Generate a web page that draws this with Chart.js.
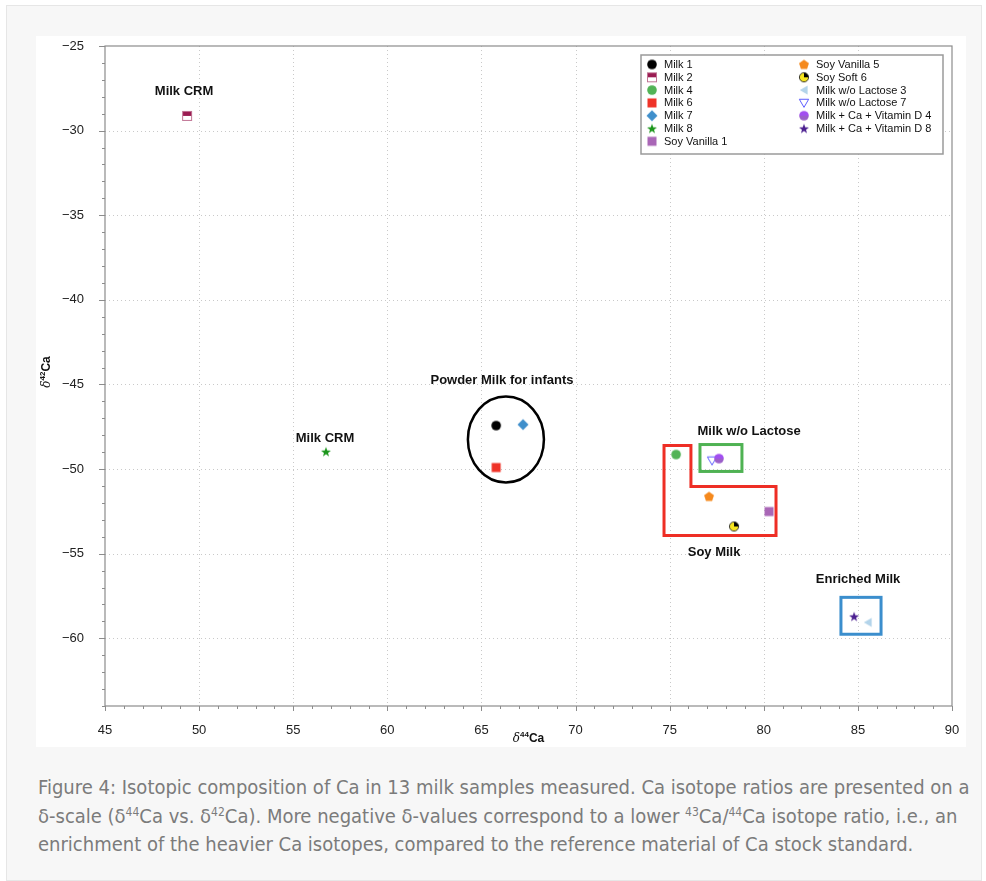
<!DOCTYPE html>
<html lang="en">
<head>
<meta charset="UTF-8">
<title>Isotopic composition of Ca in milk samples</title>
<script src="https://cdn.jsdelivr.net/npm/chart.js"></script>
<style>
    body { margin: 0; background: #fff; font-family: "Liberation Sans", Arial, sans-serif; }
    .frame {
        position: absolute; left: 6px; top: 5px; width: 974px; height: 874px;
        background: #f7f7f7; border: 1px solid #e6e6e6;
    }
    .panel { position: absolute; left: 29px; top: 30px; width: 930px; height: 711px; background: #fff; }
    .caption {
        position: absolute; left: 31px; top: 767px; white-space: nowrap;
        font-family: "Liberation Sans Narrow", "DejaVu Sans Condensed", sans-serif;
        font-stretch: condensed;
        font-size: 20px; line-height: 28.5px; color: #7b7b7b;
    }
    .caption sup { font-size: 0.6em; line-height: 0; vertical-align: 0.6em; }
</style>
</head>
<body>
<div class="frame">
    <div class="panel"><canvas id="caChart" width="930" height="711"></canvas></div>
    <div class="caption">
        Figure 4: Isotopic composition of Ca in 13 milk samples measured. Ca isotope ratios are presented on a<br>
        δ-scale (δ<sup>44</sup>Ca vs. δ<sup>42</sup>Ca). More negative δ-values correspond to a lower <sup>43</sup>Ca/<sup>44</sup>Ca isotope ratio, i.e., an<br>
        enrichment of the heavier Ca isotopes, compared to the reference material of Ca stock standard.
    </div>
</div>
<script>
// axis ticks
const xTicks = [45, 50, 55, 60, 65, 70, 75, 80, 85, 90];
const yTicks = [-25, -30, -35, -40, -45, -50, -55, -60];

// samples: delta44Ca vs delta42Ca
const samples = ['Milk 1', 'Milk 2', 'Milk 4', 'Milk 6', 'Milk 7', 'Milk 8', 'Soy Vanilla 1',
    'Soy Vanilla 5', 'Soy Soft 6', 'Milk w/o Lactose 3', 'Milk w/o Lactose 7',
    'Milk + Ca + Vitamin D 4', 'Milk + Ca + Vitamin D 8'];
const d44 = [65.78, 49.36, 75.34, 65.78, 67.21, 56.74, 80.28, 77.09, 78.42, 85.54, 77.25, 77.62, 84.80];
const d42 = [-47.43, -29.13, -49.14, -49.91, -47.37, -48.97, -52.51, -51.62, -53.39, -59.06, -49.50, -49.38, -58.71];

// group labels
const labelText = ['Milk CRM', 'Powder Milk for infants', 'Milk CRM', 'Milk w/o Lactose', 'Soy Milk', 'Enriched Milk'];
const labelX = [49.20, 66.09, 56.69, 79.22, 77.36, 85.01];
const labelY = [-27.66, -44.77, -48.20, -47.78, -54.92, -56.52];

// group outlines (data units)
const powderEllipse = [66.30, -48.25, 2.02, 2.54];
const soyX = [74.70, 76.13, 76.13, 80.65, 80.65, 74.70];
const soyY = [-48.61, -48.61, -51.03, -51.03, -53.92, -53.92];
const lactoseX = [76.61, 78.84];
const lactoseY = [-48.55, -50.14];
const enrichedX = [84.10, 86.23];
const enrichedY = [-57.58, -59.76];

const markerKinds = ['circle', 'halfSquare', 'circle', 'square', 'diamond', 'star', 'square',
    'pentagon', 'pie', 'triLeft', 'triDownOpen', 'halfCircle', 'star'];
const markerColors = ['#000000', '#9b1b52', '#52b356', '#ef3328', '#3f8fcb', '#1c961c', '#a966b6',
    '#f5891d', '#f7e51f', '#b3d4ea', '#5b5bff', '#a24ef0', '#4b1f90'];

function polyPath(g, cx, cy, r, n, rot) {
    g.beginPath();
    for (let i = 0; i < n; i++) {
        const a = rot + i * 2 * Math.PI / n;
        g.lineTo(cx + r * Math.cos(a), cy + r * Math.sin(a));
    }
    g.closePath();
}

function makeMarker(kind, color) {
    const c = document.createElement('canvas');
    const S = 14;
    c.width = S; c.height = S;
    const g = c.getContext('2d');
    const m = S / 2;
    g.fillStyle = color;
    g.strokeStyle = color;
    if (kind === 'circle') {
        g.beginPath(); g.arc(m, m, 4.8, 0, Math.PI * 2); g.fill();
    } else if (kind === 'square') {
        g.fillRect(m - 4.5, m - 4.5, 9, 9);
    } else if (kind === 'halfSquare') {
        g.fillStyle = '#fff'; g.fillRect(m - 4.5, m - 4.5, 9, 9);
        g.fillStyle = color; g.fillRect(m - 4.5, m - 4.5, 9, 4.5);
        g.strokeStyle = '#c07595'; g.lineWidth = 1; g.strokeRect(m - 4.5, m - 4.5, 9, 9);
    } else if (kind === 'diamond') {
        polyPath(g, m, m, 5.5, 4, 0); g.fill();
    } else if (kind === 'star') {
        g.beginPath();
        for (let i = 0; i < 10; i++) {
            const a = -Math.PI / 2 + i * Math.PI / 5;
            const rr = i % 2 ? 2.1 : 5.2;
            g.lineTo(m + rr * Math.cos(a), m + 0.5 + rr * Math.sin(a));
        }
        g.closePath(); g.fill();
    } else if (kind === 'pentagon') {
        polyPath(g, m, m + 0.4, 5.2, 5, -Math.PI / 2); g.fill();
    } else if (kind === 'pie') {
        g.beginPath(); g.arc(m, m, 4.6, 0, Math.PI * 2); g.fill();
        g.fillStyle = '#000';
        g.beginPath(); g.moveTo(m, m); g.arc(m, m, 4.6, -Math.PI / 2, 0); g.closePath(); g.fill();
        g.strokeStyle = '#222'; g.lineWidth = 0.9;
        g.beginPath(); g.arc(m, m, 4.6, 0, Math.PI * 2); g.stroke();
    } else if (kind === 'triLeft') {
        polyPath(g, m + 1, m, 5.2, 3, Math.PI); g.fill();
    } else if (kind === 'triDownOpen') {
        polyPath(g, m, m - 1, 5.4, 3, Math.PI / 2);
        g.lineWidth = 1; g.stroke();
    } else if (kind === 'halfCircle') {
        g.beginPath(); g.arc(m, m, 4.8, Math.PI, 0); g.closePath(); g.fill();
        g.fillStyle = '#9b5fc9';
        g.beginPath(); g.arc(m, m, 4.8, 0, Math.PI); g.closePath(); g.fill();
    }
    return c;
}

const markerImgs = markerKinds.map((k, i) => makeMarker(k, markerColors[i]));

const datasets = samples.map((name, i) => ({
    label: name,
    data: [{ x: d44[i], y: d42[i] }],
    pointStyle: markerImgs[i],
    order: samples.length - i
}));

// grid, frame and minor ticks
const frameGrid = {
    id: 'frameGrid',
    beforeDatasetsDraw(chart) {
        const { ctx, chartArea: a, scales: { x, y } } = chart;
        ctx.save();
        ctx.strokeStyle = '#c9c9c9';
        ctx.lineWidth = 1;
        ctx.setLineDash([1, 3]);
        xTicks.forEach(v => {
            if (v === xTicks[0] || v === xTicks[xTicks.length - 1]) return;
            const px = Math.round(x.getPixelForValue(v)) + 0.5;
            ctx.beginPath(); ctx.moveTo(px, a.top); ctx.lineTo(px, a.bottom); ctx.stroke();
        });
        yTicks.forEach(v => {
            if (v === yTicks[0]) return;
            const py = Math.round(y.getPixelForValue(v)) + 0.5;
            ctx.beginPath(); ctx.moveTo(a.left, py); ctx.lineTo(a.right, py); ctx.stroke();
        });
        ctx.setLineDash([]);
        ctx.strokeStyle = '#8c8c8c';
        ctx.lineWidth = 1.2;
        ctx.strokeRect(a.left, a.top, a.right - a.left, a.bottom - a.top);
        ctx.lineWidth = 1;
        for (let v = x.min; v <= x.max; v++) {
            const px = Math.round(x.getPixelForValue(v)) + 0.5;
            const len = v % 5 === 0 ? 5 : 3;
            ctx.beginPath(); ctx.moveTo(px, a.bottom); ctx.lineTo(px, a.bottom + len); ctx.stroke();
        }
        for (let v = y.max; v >= y.min; v--) {
            const py = Math.round(y.getPixelForValue(v)) + 0.5;
            const len = v % 5 === 0 ? 6 : 3;
            ctx.beginPath(); ctx.moveTo(a.left - len, py); ctx.lineTo(a.left, py); ctx.stroke();
        }
        ctx.restore();
    }
};

// group outlines and labels
const groups = {
    id: 'groups',
    afterDatasetsDraw(chart) {
        const { ctx, scales: { x, y } } = chart;
        ctx.save();
        ctx.lineJoin = 'miter';
        // powder milk ellipse
        ctx.strokeStyle = '#000';
        ctx.lineWidth = 2.5;
        const ecx = x.getPixelForValue(powderEllipse[0]);
        const ecy = y.getPixelForValue(powderEllipse[1]);
        const erx = x.getPixelForValue(powderEllipse[0] + powderEllipse[2]) - ecx;
        const ery = ecy - y.getPixelForValue(powderEllipse[1] + powderEllipse[3]);
        ctx.beginPath(); ctx.ellipse(ecx, ecy, erx, ery, 0, 0, Math.PI * 2); ctx.stroke();
        // soy milk outline
        ctx.strokeStyle = '#ee2e25';
        ctx.lineWidth = 3;
        ctx.beginPath();
        soyX.forEach((v, i) => ctx.lineTo(x.getPixelForValue(v), y.getPixelForValue(soyY[i])));
        ctx.closePath(); ctx.stroke();
        // lactose-free and enriched boxes
        const box = (xs, ys, col) => {
            ctx.strokeStyle = col;
            const x0 = x.getPixelForValue(xs[0]), x1 = x.getPixelForValue(xs[1]);
            const y0 = y.getPixelForValue(ys[0]), y1 = y.getPixelForValue(ys[1]);
            ctx.strokeRect(x0, y0, x1 - x0, y1 - y0);
        };
        box(lactoseX, lactoseY, '#4fb253');
        box(enrichedX, enrichedY, '#3b8ecd');
        // labels
        ctx.fillStyle = '#111';
        ctx.font = 'bold 13px "Liberation Sans", Arial, sans-serif';
        ctx.textAlign = 'center';
        ctx.textBaseline = 'middle';
        labelText.forEach((t, i) => ctx.fillText(t, x.getPixelForValue(labelX[i]), y.getPixelForValue(labelY[i])));
        ctx.restore();
    }
};

// axis titles with superscripts, and legend box
function drawDeltaTitle(ctx, sup, cx, cy) {
    const fD = 'italic 12px "DejaVu Serif", serif';
    const fS = 'bold 8px "Liberation Sans", Arial, sans-serif';
    const fC = 'bold 12px "Liberation Sans", Arial, sans-serif';
    ctx.font = fD; const wD = ctx.measureText('δ').width;
    ctx.font = fS; const wS = ctx.measureText(sup).width;
    ctx.font = fC; const wC = ctx.measureText('Ca').width;
    let px = cx - (wD + wS + wC) / 2;
    ctx.textAlign = 'left';
    ctx.textBaseline = 'alphabetic';
    ctx.font = fD; ctx.fillText('δ', px, cy + 4); px += wD;
    ctx.font = fS; ctx.fillText(sup, px, cy - 1); px += wS;
    ctx.font = fC; ctx.fillText('Ca', px, cy + 4);
}

const extras = {
    id: 'extras',
    afterDraw(chart) {
        const { ctx, chartArea: a } = chart;
        ctx.save();
        ctx.fillStyle = '#111';
        drawDeltaTitle(ctx, '44', (a.left + a.right) / 2, 702);
        ctx.save();
        ctx.translate(10, (a.top + a.bottom) / 2 - 4);
        ctx.rotate(-Math.PI / 2);
        drawDeltaTitle(ctx, '42', 0, 0);
        ctx.restore();

        // legend
        const lx = 605, ly = 19, lw = 302, lh = 99;
        ctx.fillStyle = '#fff';
        ctx.fillRect(lx, ly, lw, lh);
        ctx.strokeStyle = '#9a9a9a';
        ctx.lineWidth = 1.5;
        ctx.strokeRect(lx, ly, lw, lh);
        ctx.font = '11px "Liberation Sans", Arial, sans-serif';
        ctx.textBaseline = 'middle';
        ctx.textAlign = 'left';
        ctx.fillStyle = '#111';
        samples.forEach((name, i) => {
            const col = i < 7 ? 0 : 1;
            const row = i < 7 ? i : i - 7;
            const mx = col ? 768 : 616;
            const my = 28.5 + row * 12.8;
            ctx.drawImage(markerImgs[i], mx - 7, my - 7);
            ctx.fillText(name, mx + 12, my + 0.5);
        });
        ctx.restore();
    }
};

const tickFont = { family: '"Liberation Sans", Arial, sans-serif', size: 13 };
const minusFmt = v => String(v).replace('-', '\u2212');

new Chart(document.getElementById('caChart'), {
    type: 'scatter',
    data: { datasets: datasets },
    options: {
        responsive: false,
        animation: false,
        layout: { padding: { top: 10, right: 14, left: 0, bottom: 0 } },
        plugins: { legend: { display: false }, tooltip: { enabled: false } },
        scales: {
            x: {
                type: 'linear', min: 45, max: 90,
                afterBuildTicks: s => { s.ticks = xTicks.map(v => ({ value: v })); },
                afterFit: s => { s.height = 41; s.paddingLeft = 0; s.paddingRight = 0; },
                grid: { display: false },
                border: { display: false },
                ticks: { padding: 9, color: '#222', font: tickFont, maxRotation: 0, callback: minusFmt }
            },
            y: {
                type: 'linear', min: -64, max: -25,
                afterBuildTicks: s => { s.ticks = yTicks.map(v => ({ value: v })); },
                afterFit: s => { s.width = 69; s.paddingTop = 0; s.paddingBottom = 0; },
                grid: { display: false },
                border: { display: false },
                ticks: { padding: 13, color: '#222', font: tickFont, callback: minusFmt }
            }
        }
    },
    plugins: [frameGrid, groups, extras]
});
</script>
</body>
</html>
